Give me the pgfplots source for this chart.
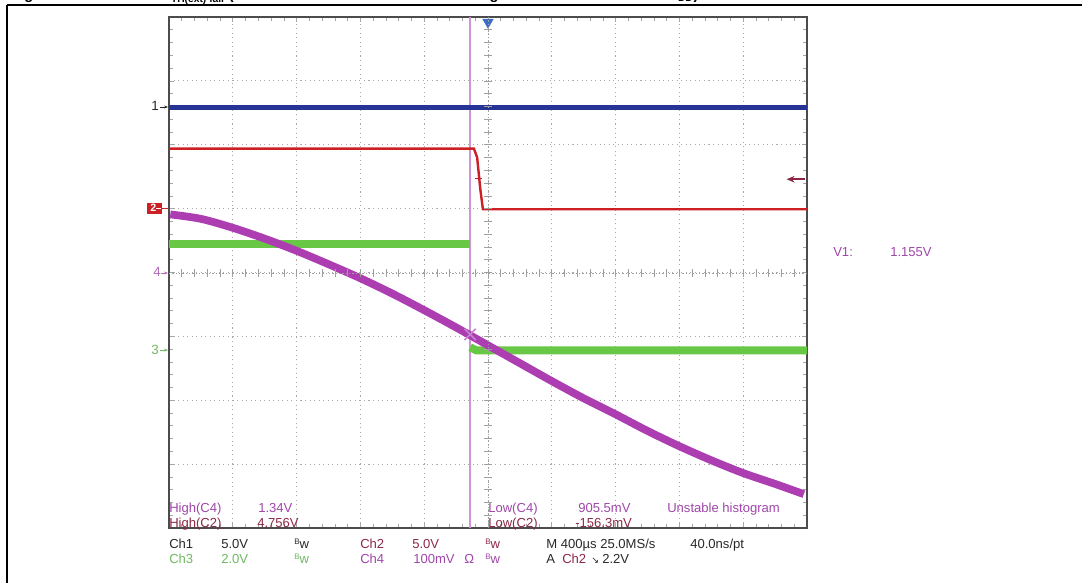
\documentclass[border=0pt]{standalone}
\usepackage{fontspec}
\setmainfont{Liberation Sans}
\newfontfamily\dejavu{DejaVu Sans}
\usepackage{pgfplots}
\pgfplotsset{compat=1.18}
\usetikzlibrary{arrows.meta}

\definecolor{chone}{RGB}{38,52,150}
\definecolor{chtwo}{RGB}{205,32,36}
\definecolor{chthree}{RGB}{104,200,70}
\definecolor{chfour}{RGB}{172,62,178}
\definecolor{cursorc}{RGB}{205,150,215}
\definecolor{txtfour}{RGB}{160,70,170}
\definecolor{txttwo}{RGB}{140,40,70}
\definecolor{txtthree}{RGB}{110,185,95}
\definecolor{txtch}{RGB}{40,40,40}
\definecolor{gridc}{RGB}{170,170,170}
\definecolor{trigc}{RGB}{60,110,200}

\newcommand{\bw}{\raisebox{2.5pt}{\fontsize{6}{6}\selectfont B}w}

\begin{document}
\begin{tikzpicture}
\useasboundingbox (0,0) rectangle (811.5pt,437.25pt);

\begin{axis}[
    at={(126.75pt,41.25pt)}, anchor=south west,
    width=478.5pt, height=383.25pt, scale only axis,
    xmin=-5, xmax=5, ymin=-4, ymax=4,
    xtick={-5,...,5}, ytick={-4,...,4},
    minor tick num=4,
    xticklabels={}, yticklabels={},
    tick align=inside,
    major tick length=4pt, minor tick length=3pt,
    tick style={gray!70, line width=0.5pt},
    grid=major,
    grid style={gridc, dash pattern=on 0.8pt off 2.6pt, line width=0.7pt},
    axis line style={gray!60!black, line width=0.9pt},
    clip=false
]
% cursor
\addplot[cursorc, line width=1.1pt] coordinates {(-0.28,-4) (-0.28,4)};
% Ch1
\addplot[chone, line width=3.6pt] coordinates {(-5,2.58) (5,2.58)};
% Ch2
\addplot[chtwo, line width=1.8pt] coordinates {
  (-5,1.94) (-0.22,1.94) (-0.17,1.80) (-0.12,1.30) (-0.08,0.99) (5,0.99)};
\addplot[chtwo, line width=0.8pt] coordinates {(-0.21,1.47) (-0.09,1.47)};
% Ch3
\addplot[chthree, line width=6pt] coordinates {(-5,0.44) (-0.28,0.44)};
\addplot[chthree, line width=6pt] coordinates {(-0.28,-1.17) (-0.18,-1.22) (5,-1.22)};
% Ch4
\addplot[chfour, line width=5.8pt, smooth] coordinates {
  (-4.98,0.91) (-4.5,0.84) (-4,0.70) (-3.5,0.53) (-3,0.34) (-2.5,0.13)
  (-2,-0.09) (-1.5,-0.33) (-1,-0.59) (-0.5,-0.86) (0,-1.14) (0.5,-1.42)
  (1,-1.70) (1.5,-1.97) (2,-2.22) (2.5,-2.48) (3,-2.72) (3.5,-2.94)
  (4,-3.14) (4.5,-3.31) (4.95,-3.47)};
% cursor crossing
\addplot[only marks, mark=x, mark size=6pt, cursorc!80!chfour, line width=1.2pt] coordinates {(-0.28,-0.97)};
% trigger position
\addplot[only marks, mark=triangle*, mark size=4.5pt, trigc, mark options={rotate=180}] coordinates {(0,3.92)};
% trigger level
\draw[txttwo, line width=1.2pt, -{Stealth[length=6pt,width=5pt]}] (axis cs:4.97,1.46) -- (axis cs:4.68,1.46);
\end{axis}

\begin{scope}[x=0.75pt, y=-0.75pt, yshift=437.25pt]
  % centre graticule lines
  \draw[gray!75, line width=0.6pt, dash pattern=on 1pt off 1.5pt] (488,17) -- (488,528);
  \draw[gray!75, line width=0.6pt, dash pattern=on 1pt off 1.5pt] (169,273) -- (807,273);
  \foreach \k in {1,...,39} \draw[gray!75, line width=0.5pt] (484,{17+\k*12.775}) -- (492,{17+\k*12.775});
  \foreach \k in {1,...,49} \draw[gray!75, line width=0.5pt] ({169+\k*12.76},269) -- ({169+\k*12.76},277);

  % frame of the page
  \draw[line width=1.8pt] (7,5) -- (1082,5);
  \draw[line width=1.8pt] (7,5) -- (7,583);

  % clipped caption
  \begin{scope}
    \clip (0,0) rectangle (1082,3.6);
    \node[anchor=base west, inner sep=0, font=\bfseries\fontsize{11}{13}\selectfont] at (11,-0.3) {Figure 12.};
    \node[anchor=base west, inner sep=0, font=\bfseries\fontsize{11}{13}\selectfont] at (161,-0.3) {V\textsubscript{TH(ext) fall} (};
    \node[anchor=base west, inner sep=0, font=\bfseries\fontsize{11}{13}\selectfont] at (455,-0.3) {falling};
    \node[anchor=base west, inner sep=0, font=\bfseries\fontsize{11}{13}\selectfont] at (668,-0.3) {V\textsubscript{DD})};
  \end{scope}

  % channel markers
  \node[anchor=base east, inner sep=0, text=txtch, font=\fontsize{10}{12}\selectfont] at (159,111) {1};
  \draw[txtch, line width=0.6pt, -{Stealth[length=3pt]}] (160,107) -- (168,107);
  \fill[chtwo] (147,203) rectangle (162,214);
  \node[anchor=base west, inner sep=0, text=white, font=\bfseries\fontsize{8}{9}\selectfont] at (150,212) {2};
  \draw[white, line width=0.6pt] (156,208.5) -- (161,208.5);
  \draw[chtwo, line width=0.8pt] (162,208.5) -- (168,208.5);
  \node[anchor=base east, inner sep=0, text=txtfour!80, font=\fontsize{10}{12}\selectfont] at (161,277) {4};
  \draw[txtfour!80, line width=0.6pt, -{Stealth[length=3pt]}] (161,273) -- (168,273);
  \node[anchor=base east, inner sep=0, text=txtthree, font=\fontsize{10}{12}\selectfont] at (159,354) {3};
  \draw[txtthree, line width=0.6pt, -{Stealth[length=3pt]}] (160,350) -- (168,350);

  % measurement readouts
  \begin{scope}[every node/.style={anchor=base west, inner sep=0, font=\fontsize{9.8}{11}\selectfont}]
    \node[text=txtfour] at (169,512) {High(C4)};
    \node[text=txtfour] at (258,512) {1.34V};
    \node[text=txttwo] at (169,527) {High(C2)};
    \node[text=txttwo] at (257,527) {4.756V};
    \node[text=txtfour] at (488,512) {Low(C4)};
    \node[text=txtfour] at (578,512) {905.5mV};
    \node[text=txtfour] at (667,512) {Unstable histogram};
    \node[text=txttwo] at (488,527) {Low(C2)};
    \node[text=txttwo] at (575,527) {-156.3mV};

    \node[text=txtch] at (169,548) {Ch1};
    \node[text=txtch] at (221,548) {5.0V};
    \node[text=txtch] at (294,548) {\bw};
    \node[text=txttwo] at (360,548) {Ch2};
    \node[text=txttwo] at (412,548) {5.0V};
    \node[text=txttwo] at (485,548) {\bw};
    \node[text=txtch] at (546,548) {M 400µs 25.0MS/s};
    \node[text=txtch] at (690,548) {40.0ns/pt};

    \node[text=txtthree] at (169,563) {Ch3};
    \node[text=txtthree] at (221,563) {2.0V};
    \node[text=txtthree] at (294,563) {\bw};
    \node[text=txtfour] at (360,563) {Ch4};
    \node[text=txtfour] at (413,563) {100mV};
    \node[text=txtfour] at (464,563) {Ω};
    \node[text=txtfour] at (485,563) {\bw};
    \node[text=txtch] at (546,563) {A};
    \node[text=txttwo] at (562,563) {Ch2};
    \node[text=txtch] at (591,563) {{\dejavu\fontsize{7}{8}\selectfont ↘}};
    \node[text=txtch] at (602,563) {2.2V};

    \node[text=txtfour] at (833,257) {V1:};
    \node[text=txtfour] at (890,257) {1.155V};
  \end{scope}
\end{scope}
\end{tikzpicture}
\end{document}
